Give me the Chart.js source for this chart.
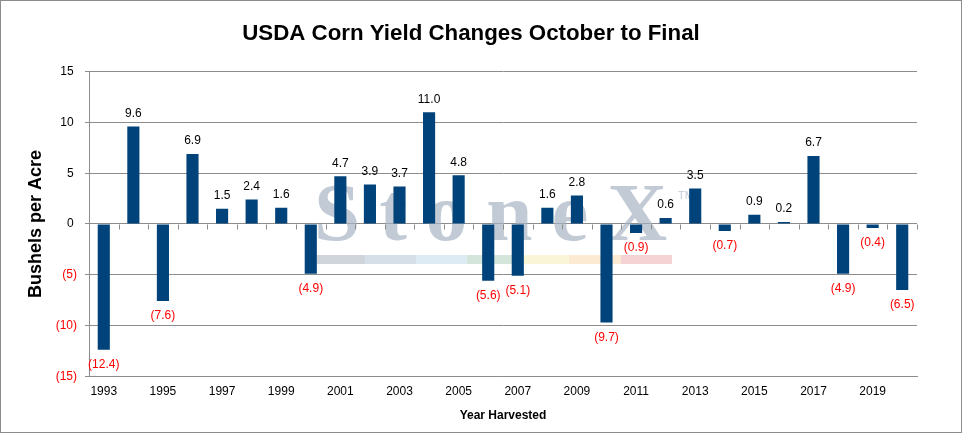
<!DOCTYPE html>
<html>
<head>
<meta charset="utf-8">
<script src="https://cdn.jsdelivr.net/npm/chart.js@4.4.1/dist/chart.umd.min.js"></script>
<style>
html,body{margin:0;padding:0;background:#fff;}
#wrap{width:962px;height:433px;position:relative;}
</style>
</head>
<body>
<div id="wrap"><canvas id="c" width="962" height="433"></canvas></div>
<script>
const years = ['1993','1994','1995','1996','1997','1998','1999','2000','2001','2002','2003','2004','2005','2006','2007','2008','2009','2010','2011','2012','2013','2014','2015','2016','2017','2018','2019','2020'];
const yieldChange = [-12.4, 9.6, -7.6, 6.9, 1.5, 2.4, 1.6, -4.9, 4.7, 3.9, 3.7, 11.0, 4.8, -5.6, -5.1, 1.6, 2.8, -9.7, -0.9, 0.6, 3.5, -0.7, 0.9, 0.2, 6.7, -4.9, -0.4, -6.5];
const titleText = 'USDA Corn Yield Changes October to Final';
const yTitle = 'Bushels per Acre';
const xTitle = 'Year Harvested';
const watermark = 'StoneX';

const FONT = "'Liberation Sans', Arial, sans-serif";
const fmt = v => v < 0 ? '(' + Math.abs(v).toFixed(1) + ')' : v.toFixed(1);

const bgPlugin = {
  id: 'bg',
  beforeDraw(chart) {
    const ctx = chart.ctx;
    ctx.save();
    ctx.fillStyle = '#fff';
    ctx.fillRect(0, 0, chart.width, chart.height);
    ctx.strokeStyle = '#8c8c8c';
    ctx.lineWidth = 1;
    ctx.strokeRect(0.5, 0.5, chart.width - 1, chart.height - 1);
    ctx.restore();
  },
  beforeDatasetsDraw(chart) {
    const ctx = chart.ctx;
    const xs = chart.scales.x, ys = chart.scales.y;
    ctx.save();
    // watermark
    ctx.fillStyle = 'rgba(165,178,193,0.68)';
    ctx.font = "bold 83px 'Liberation Serif', 'DejaVu Serif', serif";
    ctx.textAlign = 'left';
    ctx.textBaseline = 'alphabetic';
    ctx.letterSpacing = '19px';
    ctx.fillText(watermark, 314, 240);
    ctx.letterSpacing = '0px';
    ctx.font = "11px " + FONT;
    ctx.fillText('TM', 678, 199);
    const cols = ['rgba(160,172,184,0.5)','rgba(165,185,205,0.45)','rgba(180,210,232,0.45)','rgba(160,200,175,0.45)','rgba(245,235,175,0.5)','rgba(250,215,165,0.5)','rgba(235,165,170,0.5)'];
    const edges = [317, 365, 416, 467, 512, 569, 621, 672];
    cols.forEach((c, i) => { ctx.fillStyle = c; ctx.fillRect(edges[i], 255, edges[i + 1] - edges[i], 9); });
    // ticks on zero line
    const zy = Math.round(ys.getPixelForValue(0)) + 0.5;
    const step = xs.getPixelForValue(1) - xs.getPixelForValue(0);
    ctx.strokeStyle = '#8c8c8c';
    ctx.lineWidth = 1;
    ctx.beginPath();
    for (let i = 0; i <= years.length; i++) {
      let px = (i < years.length) ? xs.getPixelForValue(i) - step / 2 : xs.getPixelForValue(i - 1) + step / 2;
      px = Math.round(px) + 0.5;
      ctx.moveTo(px, zy);
      ctx.lineTo(px, zy + 5);
    }
    ctx.stroke();
    ctx.restore();
  },
  afterDatasetsDraw(chart) {
    const ctx = chart.ctx;
    const meta = chart.getDatasetMeta(0);
    ctx.save();
    ctx.font = '12px ' + FONT;
    ctx.textAlign = 'center';
    ctx.textBaseline = 'middle';
    meta.data.forEach((bar, i) => {
      const v = yieldChange[i];
      if (v < 0) {
        ctx.fillStyle = '#ff0000';
        ctx.fillText(fmt(v), bar.x, bar.y + 15);
      } else {
        ctx.fillStyle = '#000';
        ctx.fillText(fmt(v), bar.x, bar.y - 13);
      }
    });
    ctx.restore();
  }
};

new Chart(document.getElementById('c'), {
  type: 'bar',
  data: {
    labels: years,
    datasets: [{
      data: yieldChange,
      backgroundColor: '#00437a',
      borderWidth: 0,
      categoryPercentage: 1,
      barPercentage: 0.41
    }]
  },
  options: {
    responsive: false,
    animation: false,
    devicePixelRatio: 1,
    layout: { padding: { left: 25, right: 45, top: 0, bottom: 10 } },
    plugins: {
      legend: { display: false },
      tooltip: { enabled: false },
      title: {
        display: true,
        text: titleText,
        color: '#000',
        font: { family: FONT, size: 22.3, weight: 'bold' },
        padding: { top: 20, bottom: 25 }
      }
    },
    scales: {
      x: {
        grid: { display: false, drawTicks: false },
        border: { display: true, color: '#8c8c8c' },
        ticks: {
          autoSkip: false,
          maxRotation: 0,
          color: '#000',
          padding: 8,
          font: { family: FONT, size: 12 },
          callback: (v, i) => (i % 2 === 0 ? years[i] : '')
        },
        title: {
          display: true,
          text: xTitle,
          color: '#000',
          font: { family: FONT, size: 12, weight: 'bold' },
          padding: { top: 2, bottom: 0 }
        }
      },
      y: {
        min: -15,
        max: 15,
        afterFit: s => { s.width = 64; },
        ticks: {
          stepSize: 5,
          padding: 8,
          font: { family: FONT, size: 12 },
          color: ctx => (ctx.tick && ctx.tick.value < 0 ? '#ff0000' : '#000'),
          callback: v => (v < 0 ? '(' + Math.abs(v) + ')' : String(v) + ' ')
        },
        grid: { color: '#8c8c8c', lineWidth: 1, tickLength: 4, tickColor: '#8c8c8c' },
        border: { display: true, color: '#8c8c8c' },
        title: {
          display: true,
          text: yTitle,
          color: '#000',
          font: { family: FONT, size: 18, weight: 'bold' },
          padding: { top: 0, bottom: 0 }
        }
      }
    }
  },
  plugins: [bgPlugin]
});
</script>
</body>
</html>
